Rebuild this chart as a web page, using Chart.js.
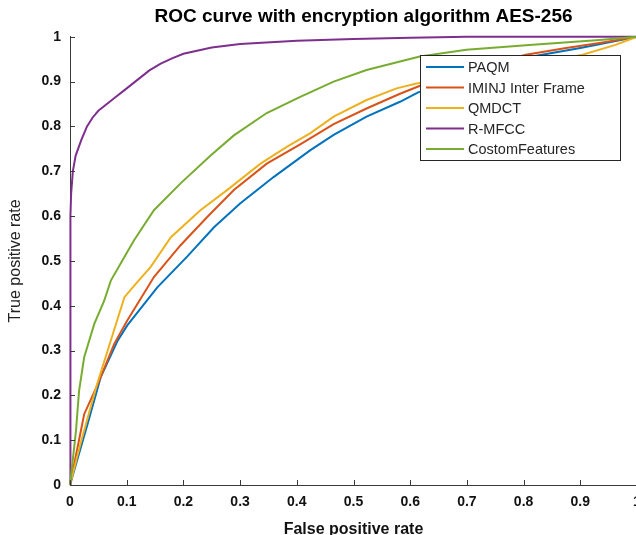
<!DOCTYPE html>
<html>
<head>
<meta charset="utf-8">
<script src="https://cdn.jsdelivr.net/npm/chart.js@4.4.1/dist/chart.umd.min.js"></script>
<style>
  html, body { margin: 0; padding: 0; background: #fff; overflow: hidden; }
  #wrap { position: absolute; left: 0; top: 0; width: 727px; height: 545px; }
</style>
</head>
<body>
<div id="wrap"><canvas id="roc" width="727" height="545"></canvas></div>
<script>
// ROC data (false positive rate / true positive rate)
const seriesNames = ['PAQM', 'IMINJ Inter Frame', 'QMDCT', 'R-MFCC', 'CostomFeatures'];
const seriesColors = ['#0072BD', '#D95319', '#EDB120', '#7E2F8E', '#77AC30'];

const paqmFpr = [0, 0.031, 0.054, 0.084, 0.101, 0.154, 0.207, 0.254, 0.3, 0.359, 0.424, 0.465, 0.523, 0.582, 0.614, 0.7, 0.81, 0.9, 0.96, 1];
const paqmTpr = [0, 0.136, 0.24, 0.322, 0.356, 0.441, 0.51, 0.575, 0.628, 0.687, 0.747, 0.781, 0.822, 0.855, 0.876, 0.915, 0.955, 0.975, 0.99, 1];

const iminjFpr = [0, 0.025, 0.049, 0.078, 0.101, 0.148, 0.195, 0.242, 0.289, 0.347, 0.406, 0.465, 0.523, 0.582, 0.614, 0.7, 0.804, 0.875, 0.934, 1];
const iminjTpr = [0, 0.158, 0.225, 0.315, 0.367, 0.464, 0.535, 0.598, 0.658, 0.717, 0.76, 0.805, 0.84, 0.873, 0.889, 0.925, 0.96, 0.975, 0.986, 1];

const qmdctFpr = [0, 0.018, 0.047, 0.096, 0.119, 0.142, 0.178, 0.23, 0.277, 0.336, 0.383, 0.424, 0.465, 0.523, 0.576, 0.611, 0.7, 0.8, 0.904, 0.962, 1];
const qmdctTpr = [0, 0.09, 0.222, 0.419, 0.453, 0.486, 0.553, 0.613, 0.658, 0.717, 0.755, 0.785, 0.822, 0.859, 0.885, 0.896, 0.912, 0.935, 0.96, 0.982, 1];

const rmfccFpr = [0, 0.0005, 0.001, 0.002, 0.005, 0.01, 0.02, 0.03, 0.04, 0.05, 0.065, 0.08, 0.1, 0.12, 0.14, 0.16, 0.18, 0.2, 0.25, 0.3, 0.4, 0.5, 0.6, 0.7, 1];
const rmfccTpr = [0, 0.3, 0.6, 0.65, 0.70, 0.735, 0.77, 0.80, 0.82, 0.835, 0.85, 0.865, 0.885, 0.905, 0.925, 0.94, 0.952, 0.962, 0.976, 0.984, 0.991, 0.995, 0.998, 1, 1];

const customFpr = [0, 0.0105, 0.016, 0.025, 0.043, 0.06, 0.072, 0.101, 0.113, 0.148, 0.195, 0.248, 0.289, 0.347, 0.406, 0.465, 0.523, 0.582, 0.617, 0.699, 0.816, 0.934, 1];
const customTpr = [0, 0.12, 0.21, 0.285, 0.36, 0.41, 0.456, 0.52, 0.546, 0.613, 0.673, 0.735, 0.78, 0.83, 0.866, 0.90, 0.926, 0.945, 0.956, 0.971, 0.982, 0.993, 1];

const xTicks = [0, 0.1, 0.2, 0.3, 0.4, 0.5, 0.6, 0.7, 0.8, 0.9, 1];
const yTicks = [0, 0.1, 0.2, 0.3, 0.4, 0.5, 0.6, 0.7, 0.8, 0.9, 1];

const fprList = [paqmFpr, iminjFpr, qmdctFpr, rmfccFpr, customFpr];
const tprList = [paqmTpr, iminjTpr, qmdctTpr, rmfccTpr, customTpr];

const AXIS_COLOR = '#3a3a3a';
const FONT = "'Liberation Sans', Arial, sans-serif";

const datasets = seriesNames.map((name, i) => ({
    label: name,
    data: fprList[i].map((x, k) => ({ x: x, y: tprList[i][k] })),
    borderColor: seriesColors[i],
    backgroundColor: seriesColors[i],
    borderWidth: 2,
    pointRadius: 0,
    tension: 0,
    fill: false,
    clip: false,
    order: seriesNames.length - i   // later series on top, like MATLAB
}));

const fmtTick = v => Number(v.toFixed(1)).toString();

// inward tick marks (MATLAB style)
const innerTicks = {
    id: 'innerTicks',
    afterDraw(chart) {
        const ctx = chart.ctx;
        const xs = chart.scales.x, ys = chart.scales.y;
        const area = chart.chartArea;
        ctx.save();
        ctx.strokeStyle = AXIS_COLOR;
        ctx.lineWidth = 1;
        ctx.beginPath();
        xTicks.forEach(t => {
            const px = Math.round(xs.getPixelForValue(t)) + 0.5;
            ctx.moveTo(px, area.bottom);
            ctx.lineTo(px, area.bottom - 5);
        });
        yTicks.forEach(t => {
            const py = Math.round(ys.getPixelForValue(t)) + 0.5;
            ctx.moveTo(area.left, py);
            ctx.lineTo(area.left + 5, py);
        });
        ctx.stroke();
        ctx.restore();
    }
};

// boxed legend in the upper right corner of the axes
const boxLegend = {
    id: 'boxLegend',
    afterDatasetsDraw(chart) {
        const ctx = chart.ctx;
        const left = 420.5, top = 55.5, w = 200, h = 105;
        ctx.save();
        ctx.fillStyle = '#fff';
        ctx.fillRect(left, top, w, h);
        ctx.strokeStyle = '#262626';
        ctx.lineWidth = 1;
        ctx.strokeRect(left, top, w, h);
        ctx.font = '14.5px ' + FONT;
        ctx.textBaseline = 'middle';
        ctx.fillStyle = '#262626';
        chart.data.datasets.forEach((ds, i) => {
            const y = 67 + i * 20.5;
            ctx.strokeStyle = ds.borderColor;
            ctx.lineWidth = 2;
            ctx.beginPath();
            ctx.moveTo(426, y);
            ctx.lineTo(464, y);
            ctx.stroke();
            ctx.fillText(ds.label, 468, y + 1);
        });
        ctx.restore();
    }
};

new Chart(document.getElementById('roc'), {
    type: 'line',
    data: { datasets: datasets },
    options: {
        responsive: false,
        animation: false,
        devicePixelRatio: 1,
        layout: { padding: 0 },
        plugins: {
            legend: { display: false },
            tooltip: { enabled: false },
            title: {
                display: true,
                text: 'ROC curve with encryption algorithm AES-256',
                color: '#000',
                font: { family: FONT, size: 19, weight: 'bold' },
                padding: { top: 5, bottom: 9 }
            }
        },
        scales: {
            x: {
                type: 'linear',
                min: 0, max: 1,
                afterFit: s => { s.height = 60; },
                afterBuildTicks: s => { s.ticks = xTicks.map(v => ({ value: v })); },
                grid: { display: false, drawTicks: false },
                border: { display: true, color: AXIS_COLOR, width: 1 },
                ticks: {
                    padding: 9,
                    color: '#111',
                    autoSkip: false,
                    maxRotation: 0,
                    font: { family: FONT, size: 14, weight: 'bold' },
                    callback: v => fmtTick(v)
                },
                title: {
                    display: true,
                    text: 'False positive rate',
                    color: '#111',
                    font: { family: FONT, size: 16, weight: 'bold' },
                    padding: { top: 0, bottom: 6 }
                }
            },
            y: {
                type: 'linear',
                min: 0, max: 1,
                afterFit: s => { s.width = 70; },
                afterBuildTicks: s => { s.ticks = yTicks.map(v => ({ value: v })); },
                grid: { display: false, drawTicks: false },
                border: { display: true, color: AXIS_COLOR, width: 1 },
                ticks: {
                    padding: 9,
                    color: '#111',
                    autoSkip: false,
                    font: { family: FONT, size: 14, weight: 'bold' },
                    callback: v => fmtTick(v)
                },
                title: {
                    display: true,
                    text: 'True positive rate',
                    color: '#222',
                    font: { family: FONT, size: 16, weight: 'normal' },
                    padding: { top: 6, bottom: 0 }
                }
            },
            // empty spacer on the right so the axes end at the picture's edge
            y2: {
                type: 'linear',
                position: 'right',
                min: 0, max: 1,
                afterFit: s => { s.width = 90; },
                grid: { display: false, drawTicks: false },
                border: { display: false },
                ticks: { display: false }
            }
        }
    },
    plugins: [boxLegend, innerTicks]
});
</script>
</body>
</html>
